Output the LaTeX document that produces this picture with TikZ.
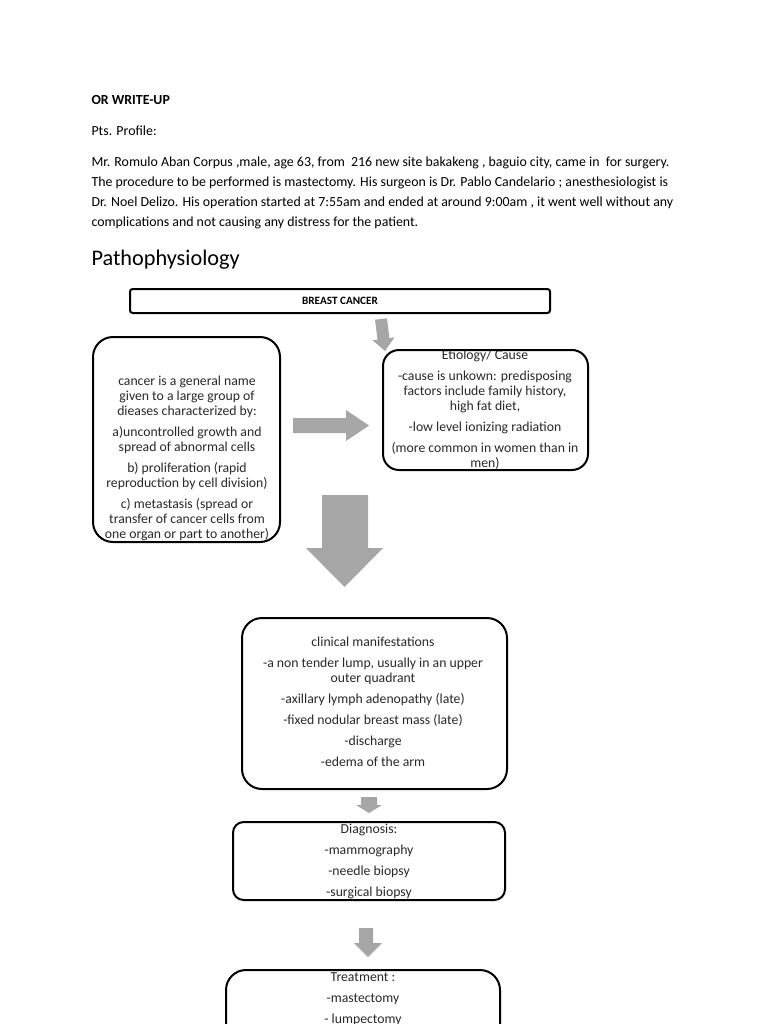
\documentclass[tikz,border=0pt]{standalone}
\usepackage{fontspec}
\setmainfont{Carlito}
\definecolor{arrowgray}{RGB}{166,166,166}
\definecolor{boxink}{RGB}{40,40,40}
\tikzset{every picture/.style={line width=0.75pt}}

\begin{document}
\begin{tikzpicture}[x=0.75pt,y=0.75pt,yscale=-1,xscale=1,
  roundbox/.style={draw, line width=1.5pt, rounded corners=#1, inner sep=0pt},
  roundbox/.default=10pt,
  bodytext/.style={inner sep=0pt, align=left, font=\fontsize{10.4}{15}\selectfont},
  boxtext/.style={inner sep=0pt, align=center, text=boxink, font=\fontsize{10.3}{11.25}\selectfont},
  blockarrow/.style={fill=arrowgray, draw=none}]
\useasboundingbox (0,0) rectangle (768,1024);
\clip (0,0) rectangle (768,1024);

% Text Node
\node (title) [bodytext, anchor=west] at (91,100) {\textbf{OR WRITE-UP}};
% Text Node
\node (profile) [bodytext, anchor=west] at (91,131) {Pts. Profile:};
% Text Node
\node (para) [bodytext, anchor=north west] at (91,156) {Mr. Romulo Aban Corpus ,male, age 63, from\ \ 216 new site bakakeng , baguio city, came in\ \ for surgery.\\
The procedure to be performed is mastectomy. His surgeon is Dr. Pablo Candelario ; anesthesiologist is\\
Dr. Noel Delizo. His operation started at 7:55am and ended at around 9:00am , it went well without any\\
complications and not causing any distress for the patient.};
% Text Node
\node (heading) [inner sep=0pt, anchor=west, font=\fontsize{16.7}{20}\selectfont] at (91,260) {Pathophysiology};

%Rounded Rect
\node (bc) [roundbox=2pt, minimum width=315pt, minimum height=18pt] at (340,301) {};
\node (bctxt) [inner sep=0pt, font=\fontsize{8.4}{10}\selectfont\bfseries] at (bc.center) {BREAST CANCER};

%Shape: Slanted Arrow
\draw [blockarrow] (375,319.7) -- (387,318.3) -- (389.4,338.1) -- (394.4,337.4) -- (385,351) -- (372.6,340.2) -- (377.5,339.6) -- cycle ;

% Text Node
\node (cancertxt) [boxtext, anchor=north] at (187,374.5) {\strut cancer is a general name\\ given to a large group of\\ dieases characterized by:\\[4.5pt]
a)uncontrolled growth and\\ spread of abnormal cells\\[4.5pt]
b) proliferation (rapid\\ reproduction by cell division)\\[4.5pt]
c) metastasis (spread or\\ transfer of cancer cells from\\ one organ or part to another)};
%Rounded Rect
\node (cancer) [roundbox=15pt, minimum width=140.25pt, minimum height=153.75pt] at (186.5,439.5) {};

%Shape: Right Arrow
\draw [blockarrow] (293,418) -- (346,418) -- (346,410) -- (369,425.5) -- (346,441) -- (346,433) -- (293,433) -- cycle ;

% Text Node
\node (causetxt) [boxtext, anchor=north] at (485,348.5) {\strut Etiology/ Cause\\[4.5pt]
-cause is unkown: predisposing\\ factors include family history,\\ high fat diet,\\[4.5pt]
-low level ionizing radiation\\[4.5pt]
(more common in women than in\\ men)};
%Rounded Rect
\node (cause) [roundbox=12pt, minimum width=153.75pt, minimum height=90pt] at (485.5,410) {};

%Shape: Down Arrow
\draw [blockarrow] (322,495) -- (368,495) -- (368,548) -- (383,548) -- (344.5,587) -- (306,548) -- (322,548) -- cycle ;

% Text Node
\node (clintxt) [boxtext, anchor=north] at (373,635.5) {\strut clinical manifestations\\[4.5pt]
-a non tender lump, usually in an upper\\ outer quadrant\\[4.5pt]
-axillary lymph adenopathy (late)\\[4.5pt]
-fixed nodular breast mass (late)\\[4.5pt]
-discharge\\[4.5pt]
-edema of the arm};
%Rounded Rect
\node (clin) [roundbox=15pt, minimum width=198.75pt, minimum height=128.25pt] at (374.5,703.5) {};

%Shape: Down Arrow
\draw [blockarrow] (361,797) -- (377,797) -- (377,805) -- (382,805) -- (369,813) -- (356,805) -- (361,805) -- cycle ;

% Text Node
\node (diagtxt) [boxtext, anchor=north] at (369,822.5) {\strut Diagnosis:\\[4.5pt]
-mammography\\[4.5pt]
-needle biopsy\\[4.5pt]
-surgical biopsy};
%Rounded Rect
\node (diag) [roundbox=8pt, minimum width=204pt, minimum height=58.5pt] at (369,861) {};

%Shape: Down Arrow
\draw [blockarrow] (359,928) -- (373,928) -- (373,943) -- (382,943) -- (368,957) -- (354,943) -- (359,943) -- cycle ;

% Text Node
\node (treattxt) [boxtext, anchor=north] at (363,970.5) {\strut Treatment :\\[4.5pt]
-mastectomy\\[4.5pt]
- lumpectomy};
%Rounded Rect
\node (treat) [roundbox=15pt, minimum width=205.5pt, minimum height=97.5pt] at (363,1035) {};

\end{tikzpicture}
\end{document}
